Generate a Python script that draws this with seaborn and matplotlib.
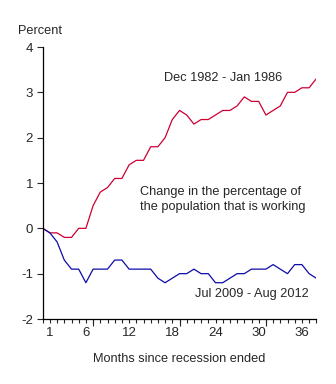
import numpy as np
import pandas as pd
import matplotlib
matplotlib.use("Agg")
import matplotlib.pyplot as plt
import seaborn as sns

months = list(range(0, 39))
red_1982 = [0, -0.1, -0.1, -0.2, -0.2, 0, 0, 0.5, 0.8, 0.9, 1.1, 1.1, 1.4, 1.5, 1.5,
            1.8, 1.8, 2.0, 2.4, 2.6, 2.5, 2.3, 2.4, 2.4, 2.5, 2.6, 2.6, 2.7, 2.9, 2.8,
            2.8, 2.5, 2.6, 2.7, 3.0, 3.0, 3.1, 3.1, 3.3]
blue_2009 = [0, -0.1, -0.3, -0.7, -0.9, -0.9, -1.2, -0.9, -0.9, -0.9, -0.7, -0.7, -0.9,
             -0.9, -0.9, -0.9, -1.1, -1.2, -1.1, -1.0, -1.0, -0.9, -1.0, -1.0, -1.2, -1.2,
             -1.1, -1.0, -1.0, -0.9, -0.9, -0.9, -0.8, -0.9, -1.0, -0.8, -0.8, -1.0, -1.1]
x_tick_labels = [1, 6, 12, 18, 24, 30, 36]
y_ticks = [-2, -1, 0, 1, 2, 3, 4]
series_names = ["Dec 1982 - Jan 1986", "Jul 2009 - Aug 2012"]

df = pd.DataFrame({
    "month": months * 2,
    "value": red_1982 + blue_2009,
    "series": [series_names[0]] * len(months) + [series_names[1]] * len(months),
})

sns.set_style("ticks")
plt.rcParams["font.family"] = ["Liberation Sans", "DejaVu Sans"]

FS = 9.2
fig = plt.figure(figsize=(3.36, 3.84), dpi=100)
ax = fig.add_axes([42.7 / 336, 65 / 384, 273.6 / 336, 272 / 384])

sns.lineplot(data=df, x="month", y="value", hue="series",
             palette={series_names[0]: "#cc0033", series_names[1]: "#0c0ca8"},
             linewidth=0.9, legend=False, ax=ax)

ax.set_xlim(0, 38)
ax.set_ylim(-2, 4)
ax.set_yticks(y_ticks)
ax.set_yticklabels([str(v) for v in y_ticks], fontsize=FS + 0.3)
ax.set_xticks(x_tick_labels)
ax.set_xticklabels([str(v) for v in x_tick_labels], fontsize=FS + 0.3)
ax.set_xticks(months, minor=True)
ax.tick_params(axis="x", which="major", length=3, width=0.8, pad=3)
ax.tick_params(axis="x", which="minor", length=3, width=0.8)
ax.tick_params(axis="y", which="major", length=4, width=0.8, pad=3)

sec = ax.secondary_xaxis("bottom")
sec.set_xticks([7, 19, 31])
sec.set_xticklabels([])
sec.tick_params(axis="x", length=5, width=0.8)
sec.spines["bottom"].set_visible(False)

for s in ["top", "right"]:
    ax.spines[s].set_visible(False)
for s in ["left", "bottom"]:
    ax.spines[s].set_linewidth(0.9)
    ax.spines[s].set_color("black")

ax.set_xlabel("Months since recession ended", fontsize=FS, labelpad=10)
ax.set_ylabel("")
ax.text(-0.089, 1.035, "Percent", transform=ax.transAxes, fontsize=FS,
        ha="left", va="bottom")
ax.text(0.443, 0.887, series_names[0], transform=ax.transAxes, fontsize=FS,
        ha="left", va="center")
ax.text(0.356, 0.439, "Change in the percentage of\nthe population that is working",
        transform=ax.transAxes, fontsize=FS, ha="left", va="center", linespacing=1.3)
ax.text(0.974, 0.092, series_names[1], transform=ax.transAxes, fontsize=FS,
        ha="right", va="center")

fig.savefig("out.png", dpi=100)
